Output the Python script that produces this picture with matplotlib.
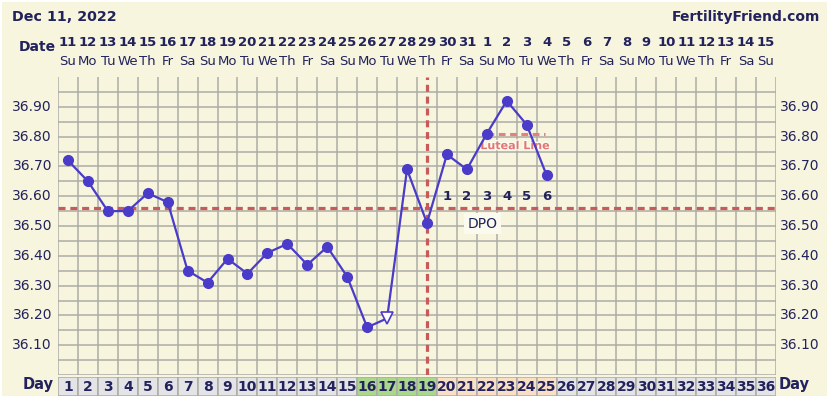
#!/usr/bin/env python3

# fertility chart: basal temperature by cycle day, with coverline and DPO marks.

import matplotlib
matplotlib.use('Agg')
from matplotlib import pyplot as plt
from matplotlib.patches import Rectangle
import matplotlib.patheffects as pe

# --- data ---
cycle_days = list(range(1, 37))
dates = ['11', '12', '13', '14', '15', '16', '17', '18', '19', '20', '21', '22',
         '23', '24', '25', '26', '27', '28', '29', '30', '31', '1', '2', '3',
         '4', '5', '6', '7', '8', '9', '10', '11', '12', '13', '14', '15']
weekdays = ['Su', 'Mo', 'Tu', 'We', 'Th', 'Fr', 'Sa'] * 5 + ['Su']

temp_days = list(range(1, 26))
temps = [36.72, 36.65, 36.55, 36.55, 36.61, 36.58, 36.35, 36.31, 36.39, 36.34,
         36.41, 36.44, 36.37, 36.43, 36.33, 36.16, 36.19, 36.69, 36.51, 36.74,
         36.69, 36.81, 36.92, 36.84, 36.67]
open_days = [17]  # open triangle marker

coverline = 36.56
ovulation_day = 19
luteal_temp = 36.81
luteal_span = [22, 24.9]

dpo_days = [20, 21, 22, 23, 24, 25]
dpo_labels = ['1', '2', '3', '4', '5', '6']

temp_ticks = [36.10, 36.20, 36.30, 36.40, 36.50, 36.60, 36.70, 36.80, 36.90]
temp_labels = ['%.2f' % t for t in temp_ticks]

# day cell shading: follicular grey, fertile green, luteal peach
day_colors = (['#e4e4e6'] * 15 + ['#aad78c'] * 4 + ['#f9dfc6'] * 6
              + ['#e4e4e6'] * 11)

CREAM = '#f7f5de'
NAVY = '#22225c'
BLUE = '#4a3bc9'
RED = '#c95a5a'
GRID = '#adada6'

W, H = 828, 396
fig = plt.figure(figsize=(W / 100, H / 100), dpi=100)
fig.patch.set_facecolor(CREAM)
fig.patches.append(Rectangle((0, 1 - 2 / H), 1, 2 / H, transform=fig.transFigure,
                             facecolor='white', edgecolor='none'))
fig.patches.append(Rectangle((0, 0), 2 / W, 1, transform=fig.transFigure,
                             facecolor='white', edgecolor='none'))

x0, x1 = 58, 776
ax = fig.add_axes([x0 / W, (H - 375) / H, (x1 - x0) / W, 298 / H])
ax.set_facecolor(CREAM)
ax.set_xlim(0.5, 36.5)
ax.set_ylim(36.0, 37.0)

# grid
ax.set_xticks([d + 0.5 for d in range(0, 37)])
ax.set_yticks([36.0 + 0.05 * i for i in range(1, 20)])
ax.grid(True, color=GRID, linewidth=1.1)
ax.tick_params(length=0, labelleft=False, labelbottom=False)
for s in ax.spines.values():
    s.set_visible(False)
ax.axhline(36.0, color=GRID, linewidth=1.1)

yt = ax.get_yaxis_transform()
for t, lab in zip(temp_ticks, temp_labels):
    ax.text(-6 / (x1 - x0), t, lab, transform=yt, ha='right',
            va='center', fontsize=10, color=NAVY)
    ax.text(1 + 4 / (x1 - x0), t, lab, transform=yt, ha='left',
            va='center', fontsize=10, color=NAVY)

# coverline and ovulation line
dash = (0, (2.2, 1.5))
ax.axhline(coverline, color=RED, linewidth=2.3, linestyle=dash, zorder=3)
ax.axvline(ovulation_day, color=RED, linewidth=2.3, linestyle=dash, zorder=3)

# luteal line
ax.plot(luteal_span, [luteal_temp, luteal_temp], color='#e58080', linewidth=2.2,
        linestyle=dash, zorder=3)
ax.text(23.4, 36.768, 'Luteal Line', ha='center', va='center',
        fontsize=8, color='#e27676', fontweight='bold', zorder=4,
        path_effects=[pe.withStroke(linewidth=2, foreground='#fcfbf0')])

# temperatures
ax.plot(temp_days, temps, color=BLUE, linewidth=1.6, zorder=5)
filled = [(d, t) for d, t in zip(temp_days, temps) if d not in open_days]
ax.plot([d for d, t in filled], [t for d, t in filled], 'o', color=BLUE,
        markersize=7, zorder=6)
opened = [(d, t) for d, t in zip(temp_days, temps) if d in open_days]
ax.plot([d for d, t in opened], [t for d, t in opened], 'v', markerfacecolor='white',
        markeredgecolor=BLUE, markeredgewidth=1.2, markersize=8, zorder=6)

# DPO numbers
for d, lab in zip(dpo_days, dpo_labels):
    ax.text(d, 36.598, lab, ha='center', va='center', fontsize=9.5,
            fontweight='bold', color=NAVY, zorder=4)
ax.text(21.8, 36.507, 'DPO', ha='center', va='center', fontsize=10, color=NAVY,
        zorder=4, bbox=dict(boxstyle='square,pad=0.25', facecolor='#fbfaee',
                            edgecolor='none'))

# date header
xt = ax.get_xaxis_transform()
for d, lab, wd in zip(cycle_days, dates, weekdays):
    ax.text(d, (375 - 42) / 298, lab, transform=xt, ha='center', va='center',
            fontsize=9.5, fontweight='bold', color=NAVY, clip_on=False)
    ax.text(d, (375 - 61) / 298, wd, transform=xt, ha='center', va='center',
            fontsize=9.5, color=NAVY, clip_on=False)

fig.text(37 / W, 1 - 47 / H, 'Date', ha='center', va='center', fontsize=10,
         fontweight='bold', color=NAVY)
fig.text(12 / W, 1 - 17 / H, 'Dec 11, 2022', ha='left', va='center', fontsize=10.3,
         fontweight='bold', color=NAVY)
fig.text(820 / W, 1 - 17 / H, 'FertilityFriend.com', ha='right', va='center',
         fontsize=10, fontweight='bold', color=NAVY)

# day row
ax2 = fig.add_axes([x0 / W, 0, (x1 - x0) / W, 19 / H])
ax2.set_xlim(0.5, 36.5)
ax2.set_ylim(0, 1)
ax2.bar(cycle_days, 1.0, width=1.0, bottom=0, color=day_colors,
        edgecolor=GRID, linewidth=1.1)
for d in cycle_days:
    ax2.text(d, 0.45, str(d), ha='center', va='center', fontsize=10,
             fontweight='bold', color=NAVY)
ax2.axis('off')
fig.text(38 / W, 1 - 385 / H, 'Day', ha='center', va='center', fontsize=10.5,
         fontweight='bold', color=NAVY)
fig.text(779 / W, 1 - 385 / H, 'Day', ha='left', va='center', fontsize=10.5,
         fontweight='bold', color=NAVY)

fig.savefig('out.png', dpi=100, facecolor=fig.get_facecolor())
